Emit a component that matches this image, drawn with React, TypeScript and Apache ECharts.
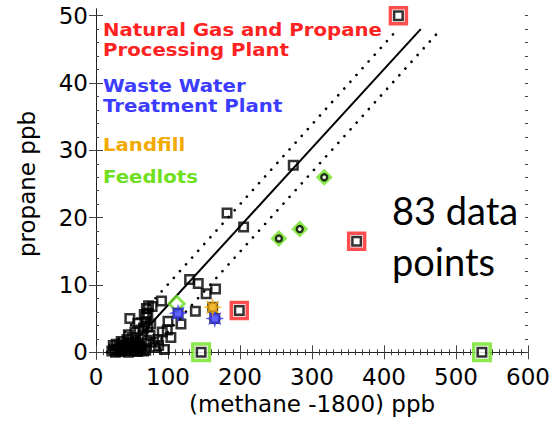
import React, { useEffect, useRef } from "react";
import * as echarts from "echarts";

// ---- data ----
const xTicks = [0, 100, 200, 300, 400, 500, 600];
const yTicks = [0, 10, 20, 30, 40, 50];
const yMinorTicks = [0, 2, 4, 6, 8, 10, 12, 14, 16, 18, 20, 22, 24, 26, 28, 30, 32, 34, 36, 38, 40, 42, 44, 46, 48, 50];

const allPoints: [number, number][] = [
  // near origin cluster
  [22, 0.2], [24, 1.0], [25, 0.5], [27, 0.0], [28, 1.2], [30, 0.3], [32, 0.8], [33, 0.4], [34, 0.1],
  [35, 1.6], [36, 0.5], [38, 1.0], [40, 0.2], [40, 0.8], [42, 0.4], [43, 1.9], [44, 1.2], [45, 0.0],
  [45, 2.6], [47, 0.6], [48, 1.4], [50, 0.3], [50, 2.2], [52, 0.9], [54, 0.2], [55, 1.5], [56, 1.2],
  [57, 0.6], [58, 0.1], [60, 1.0], [61, 0.7], [62, 0.4], [64, 0.9], [66, 0.2], [69, 0.3],
  // column
  [65, 2.6], [66, 3.6], [68, 4.5], [70, 5.2], [72, 5.8], [72, 3.8], [70, 6.5], [73, 6.9], [67, 5.6],
  [60, 3.3], [58, 4.3], [54, 3.0], [47, 5.0], [71, 1.8], [75, 2.5], [78, 6.8], [82, 0.8], [80, 1.5],
  [76, 4.2],
  // middle
  [86, 1.9], [87, 1.0], [92, 3.0], [99, 3.3], [100, 4.6], [91, 7.6], [118, 4.2], [138, 6.1],
  [130, 10.8], [142, 10.2], [153, 8.7], [166, 9.4], [104, 2.2], [95, 0.4], [114, 5.8], [165, 5.0], [162, 6.7],
  // upper
  [274, 27.8], [182, 20.7], [205, 18.6],
  // highlighted
  [420, 50], [362, 16.5], [199, 6.2], [146, 0], [536, 0],
];
const gasPlantPoints: [number, number][] = [[420, 50], [362, 16.5], [199, 6.2]];
const feedlotSquarePoints: [number, number][] = [[146, 0], [536, 0]];
const feedlotDiamondPoints: [number, number][] = [[317, 26], [254, 16.9], [283, 18.3]];
const feedlotHiddenPoints: [number, number][] = [[112, 7.2]];
const wastewaterPoints: [number, number][] = [[114, 5.8], [165, 5.0]];
const landfillPoints: [number, number][] = [[162, 6.7]];
const fitLine: [number, number][] = [[40, 0], [451, 48]];
const upperBound: [number, number][] = [[15, 0], [419, 48]];
const lowerBound: [number, number][] = [[74, 0], [479, 48]];

const legendLines = [
  { text: "Natural Gas and Propane", color: "#ff2222", y: 30 },
  { text: "Processing Plant", color: "#ff2222", y: 50 },
  { text: "Waste Water", color: "#3c3cff", y: 86 },
  { text: "Treatment Plant", color: "#3c3cff", y: 106 },
  { text: "Landfill", color: "#f2a900", y: 145 },
  { text: "Feedlots", color: "#6fe020", y: 177 },
];

const starPath = (() => {
  let d = "";
  for (let i = 0; i < 16; i++) {
    const a = (i * Math.PI) / 8 - Math.PI / 2;
    const r = i % 2 === 0 ? 10 : 4.8;
    d += (i === 0 ? "M" : "L") + (10 + r * Math.cos(a)).toFixed(2) + " " + (10 + r * Math.sin(a)).toFixed(2) + " ";
  }
  return "path://" + d + "Z";
})();

const FONT = "DejaVu Sans";

export default function App() {
  const ref = useRef<HTMLDivElement>(null);
  useEffect(() => {
    if (!ref.current) return;
    const chart = echarts.init(ref.current, null, { renderer: "svg" });
    const axisLine = { show: true, lineStyle: { color: "#222", width: 1 } };
    const tickStyle = { color: "#444", width: 1 };
    const xBase = {
      type: "value" as const,
      min: 0,
      max: 600,
      interval: 100,
      axisLine,
      splitLine: { show: false },
      axisTick: { show: true, inside: true, length: 7, lineStyle: tickStyle },
      minorTick: { show: true, splitNumber: 10, length: 3, lineStyle: tickStyle },
    };
    const yBase = {
      type: "value" as const,
      min: -1,
      max: 51,
      splitLine: { show: false },
    };
    chart.setOption({
      animation: false,
      backgroundColor: "#fff",
      grid: { left: 96, right: 28, top: 9, bottom: 81 },
      xAxis: [
        {
          ...xBase,
          position: "bottom",
          axisLabel: { show: true, fontSize: 23, color: "#000", fontFamily: FONT, margin: 6, customValues: xTicks },
          name: "(methane -1800) ppb",
          nameLocation: "middle",
          nameGap: 30,
          nameTextStyle: { fontSize: 23, color: "#000", fontFamily: FONT },
        },
        { ...xBase, position: "top", axisLabel: { show: false } },
      ],
      yAxis: [
        {
          ...yBase,
          position: "left",
          axisLine,
          axisTick: { show: true, inside: true, length: 7, customValues: yTicks, lineStyle: tickStyle },
          axisLabel: { show: true, fontSize: 23, color: "#000", fontFamily: FONT, margin: 8, customValues: yTicks },
          name: "propane ppb",
          nameLocation: "middle",
          nameRotate: 90,
          nameGap: 58,
          nameTextStyle: { fontSize: 23, color: "#000", fontFamily: FONT },
        },
        {
          ...yBase,
          position: "right",
          axisLine,
          axisTick: { show: true, inside: true, length: 7, customValues: yTicks, lineStyle: tickStyle },
          axisLabel: { show: false },
        },
        {
          ...yBase,
          position: "left",
          axisLine: { show: false },
          axisTick: { show: true, inside: true, length: 3, customValues: yMinorTicks, lineStyle: tickStyle },
          axisLabel: { show: false },
        },
        {
          ...yBase,
          position: "right",
          axisLine: { show: false },
          axisTick: { show: true, inside: true, length: 3, customValues: yMinorTicks, lineStyle: tickStyle },
          axisLabel: { show: false },
        },
      ],
      graphic: [
        ...legendLines.map((l) => ({
          type: "text",
          x: 103,
          y: l.y,
          scaleX: 1.16,
          style: { text: l.text, fill: l.color, font: `bold 17px "${FONT}"`, verticalAlign: "middle", align: "left" },
          z: 100,
        })),
        {
          type: "text",
          left: 392,
          top: 191,
          style: { text: "83 data", fill: "#000", font: '38px "Lato"' },
          z: 100,
        },
        {
          type: "text",
          left: 392,
          top: 242,
          style: { text: "points", fill: "#000", font: '38px "Lato"' },
          z: 100,
        },
      ],
      series: [
        {
          type: "line",
          data: fitLine,
          symbol: "none",
          lineStyle: { color: "#000", width: 2 },
          z: 2,
        },
        {
          type: "line",
          data: upperBound,
          symbol: "none",
          lineStyle: { color: "#000", width: 2.6, type: [0.1, 9], cap: "round" },
          z: 2,
        },
        {
          type: "line",
          data: lowerBound,
          symbol: "none",
          lineStyle: { color: "#000", width: 2.6, type: [0.1, 9], cap: "round" },
          z: 2,
        },
        {
          type: "scatter",
          data: gasPlantPoints,
          symbol: "rect",
          symbolSize: 16,
          itemStyle: { color: "#fff", borderColor: "#ff2222", borderWidth: 3.5 },
          z: 3,
        },
        {
          type: "scatter",
          data: feedlotSquarePoints,
          symbol: "rect",
          symbolSize: 16.5,
          itemStyle: { color: "#fff", borderColor: "#6fe020", borderWidth: 3.5 },
          z: 3,
        },
        {
          type: "scatter",
          data: feedlotDiamondPoints,
          symbol: "diamond",
          symbolSize: 17,
          itemStyle: { color: "#6fe020" },
          z: 3,
        },
        {
          type: "scatter",
          data: feedlotHiddenPoints,
          symbol: "diamond",
          symbolSize: 15,
          itemStyle: { color: "rgba(0,0,0,0)", borderColor: "#6fe020", borderWidth: 3 },
          z: 3,
        },
        {
          type: "scatter",
          data: allPoints,
          symbol: "rect",
          symbolSize: 8.5,
          itemStyle: { color: "rgba(0,0,0,0)", borderColor: "#000", borderWidth: 2.5 },
          z: 4,
        },
        {
          type: "scatter",
          data: feedlotDiamondPoints,
          symbol: "circle",
          symbolSize: 6,
          itemStyle: { color: "#fff", borderColor: "#000", borderWidth: 2.4 },
          z: 5,
        },
        {
          type: "scatter",
          data: wastewaterPoints,
          symbol: starPath,
          symbolSize: 19,
          itemStyle: { color: "#3c3cff" },
          z: 6,
        },
        {
          type: "scatter",
          data: landfillPoints,
          symbol: starPath,
          symbolSize: 19,
          itemStyle: { color: "#f2a900" },
          z: 6,
        },
      ],
    });
    return () => chart.dispose();
  }, []);
  return <div ref={ref} style={{ position: "fixed", left: 0, top: 0, width: 556, height: 440 }} />;
}
